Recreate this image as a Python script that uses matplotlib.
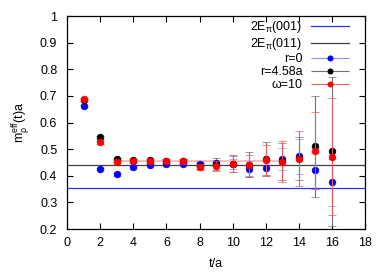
import matplotlib
matplotlib.use("Agg")
import numpy as np
import matplotlib.pyplot as plt
from matplotlib.lines import Line2D
from matplotlib.legend_handler import HandlerErrorbar

plt.rcParams['font.family'] = ['Liberation Sans', 'DejaVu Sans']
plt.rcParams['mathtext.fontset'] = 'custom'
plt.rcParams['mathtext.rm'] = 'Liberation Sans'
plt.rcParams['mathtext.it'] = 'Liberation Sans'

# effective mass data
t = [1, 2, 3, 4, 5, 6, 7, 8, 9, 10, 11, 12, 13, 14, 15, 16]

m_r0 = [0.662, 0.424, 0.405, 0.432, 0.440, 0.445, 0.446, 0.444, 0.449, 0.445,
        0.427, 0.430, 0.463, 0.473, 0.420, 0.375]
e_r0 = [0.004, 0.004, 0.004, 0.005, 0.005, 0.006, 0.007, 0.008, 0.012, 0.02,
        0.03, 0.03, 0.043, 0.065, 0.07, 0.088]

m_r458 = [0.686, 0.544, 0.463, 0.458, 0.458, 0.457, 0.456, 0.437, 0.445, 0.445,
          0.442, 0.464, 0.455, 0.466, 0.511, 0.493]
e_r458 = [0.005, 0.005, 0.005, 0.006, 0.006, 0.007, 0.008, 0.012, 0.022, 0.032,
          0.047, 0.062, 0.07, 0.08, 0.19, 0.28]

m_w10 = [0.687, 0.526, 0.453, 0.455, 0.455, 0.455, 0.455, 0.434, 0.437, 0.445,
         0.439, 0.458, 0.453, 0.464, 0.494, 0.472]
e_w10 = [0.006, 0.006, 0.006, 0.007, 0.007, 0.008, 0.009, 0.012, 0.02, 0.03,
         0.04, 0.058, 0.078, 0.104, 0.144, 0.22]

two_e_001 = 0.353
two_e_011 = 0.4415
fit_w10 = 0.457
fit_range = [3, 13]

fig = plt.figure(figsize=(3.9, 2.73), dpi=100)
ax = fig.add_axes([0.172, 0.161, 0.764, 0.780])

ax.axhline(two_e_001, color='#3030ff', lw=0.9)
ax.axhline(two_e_011, color='#404040', lw=0.9)
ax.plot(fit_range, [fit_w10, fit_w10], color='#ff8080', lw=1.2, alpha=0.6)

series = [
    (m_r0, e_r0, 'blue', '#9090ff', 3),
    (m_r458, e_r458, 'black', '#707070', 3),
    (m_w10, e_w10, 'red', '#e06060', 4),
]
for m, e, col, ecol, z in series:
    ax.errorbar(t, m, yerr=e, fmt='o', color=col, ms=4.8, mew=0.5, ecolor=ecol,
                elinewidth=0.8, capsize=3, capthick=0.8, zorder=z)

# legend proxies: horizontal error bar style as in gnuplot
handles = [
    Line2D([], [], color='#3030ff', lw=0.9),
    Line2D([], [], color='#404040', lw=0.9),
]
for m, e, col, ecol, z in series:
    h = ax.errorbar(np.array([]), np.array([]), xerr=np.array([]), fmt='o',
                    color=col, ms=3.8, mew=0.5, ecolor=ecol, elinewidth=0.8,
                    capsize=2, capthick=0.8)
    handles.append(h)
labels = [r'2E$_\pi$(001)', r'2E$_\pi$(011)', 'r=0', 'r=4.58a', 'ω=10']
ax.legend(handles, labels, loc='upper right', bbox_to_anchor=(0.946, 0.985),
          borderaxespad=0, borderpad=0, frameon=False, markerfirst=False,
          fontsize=9, handlelength=3.0, labelspacing=0.08, handletextpad=0.7,
          handler_map={type(handles[2]): HandlerErrorbar(xerr_size=1.5)})

ax.set_xlim(0, 18)
ax.set_ylim(0.2, 1.0)
ax.set_xticks(range(0, 19, 2))
ax.set_yticks([0.2, 0.3, 0.4, 0.5, 0.6, 0.7, 0.8, 0.9, 1.0])
ax.set_yticklabels(['0.2', '0.3', '0.4', '0.5', '0.6', '0.7', '0.8', '0.9', '1'])
ax.tick_params(direction='in', top=True, right=True, length=4, width=0.8,
               labelsize=9)
ax.tick_params(axis='x', pad=6)
ax.tick_params(axis='y', pad=7)
for s in ax.spines.values():
    s.set_linewidth(0.9)

ax.set_xlabel('t/a', fontsize=9, labelpad=6)
ax.set_ylabel(r'm$_\rho^{\rm eff}$(t)a', fontsize=9, labelpad=6)

fig.savefig('out.png', dpi=100)
